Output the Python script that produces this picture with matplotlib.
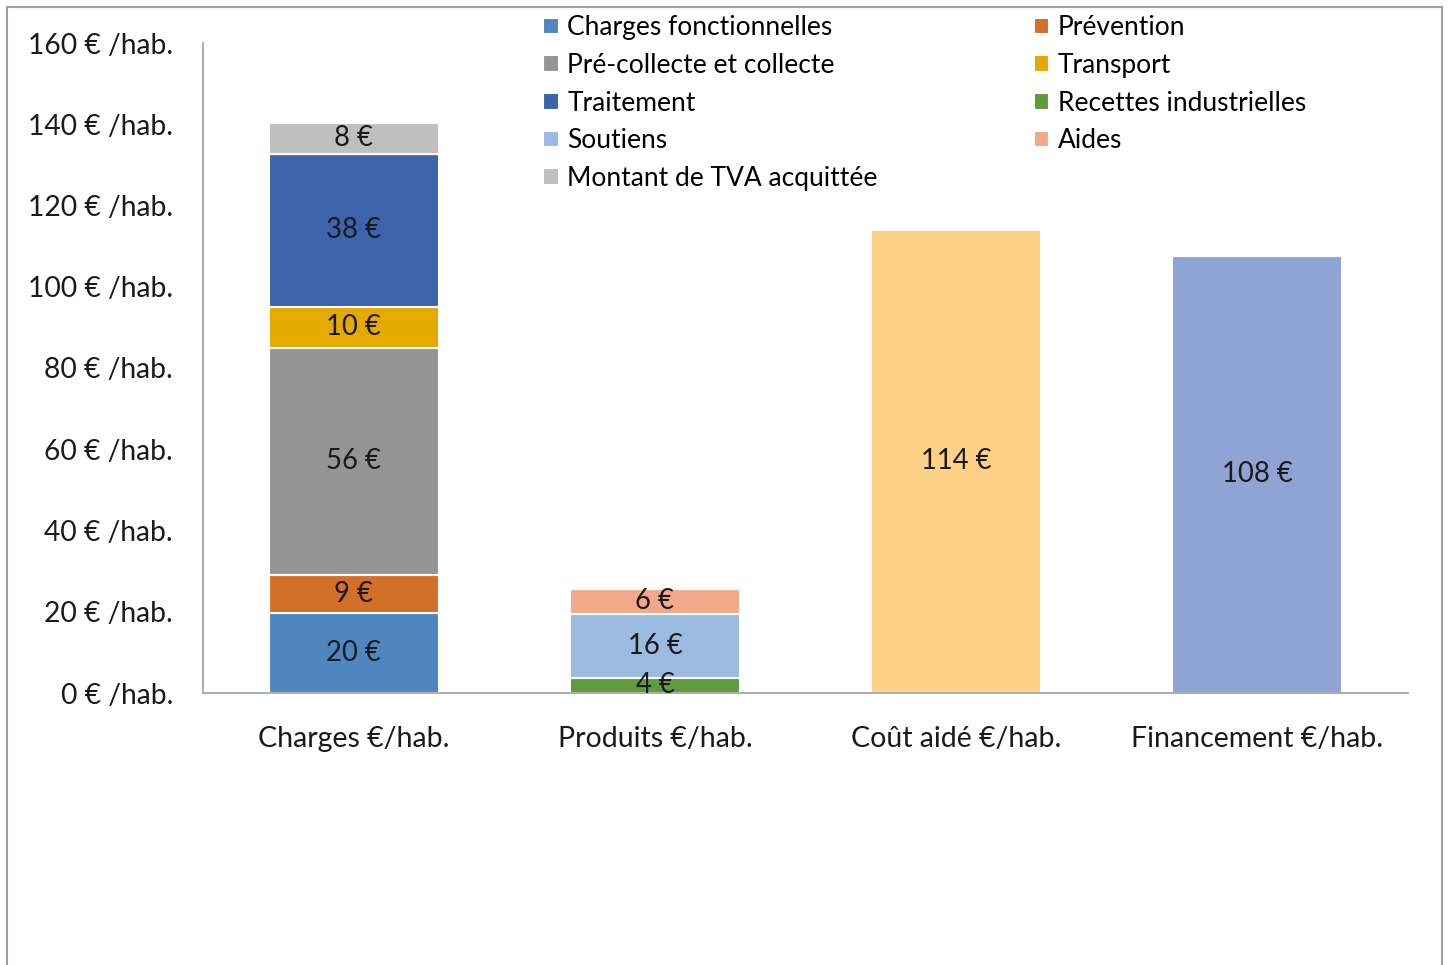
import numpy as np
import matplotlib.pyplot as plt
from matplotlib.patches import Rectangle

plt.rcParams['font.family'] = ['Lato', 'DejaVu Sans']

categories = ["Charges €/hab.", "Produits €/hab.", "Coût aidé €/hab.", "Financement €/hab."]
yticks = [0, 20, 40, 60, 80, 100, 120, 140, 160]
ytick_labels = [f"{v} € /hab." for v in yticks]

# stacked series (value per category, in €/hab.)
charges_fonct = [19.6, 0, 0, 0]
prevention = [9.4, 0, 0, 0]
precollecte = [56.0, 0, 0, 0]
transport = [10.1, 0, 0, 0]
traitement = [37.7, 0, 0, 0]
recettes = [0, 3.7, 0, 0]
soutiens = [0, 15.8, 0, 0]
aides = [0, 6.1, 0, 0]
tva = [7.6, 0, 0, 0]
cout_aide = [0, 0, 114.0, 0]
financement = [0, 0, 0, 107.6]

# drawing order bottom -> top
stack = [
    ("Charges fonctionnelles", charges_fonct, "#4E87BF"),
    ("Prévention", prevention, "#D46F2A"),
    ("Pré-collecte et collecte", precollecte, "#959595"),
    ("Transport", transport, "#E4AA00"),
    ("Traitement", traitement, "#3C63AC"),
    ("Recettes industrielles", recettes, "#5F9A3C"),
    ("Soutiens", soutiens, "#9BBBE0"),
    ("Aides", aides, "#F2A98B"),
    ("Montant de TVA acquittée", tva, "#BFBFBF"),
    (None, cout_aide, "#FFD186"),
    (None, financement, "#8FA3D5"),
]

fig = plt.figure(figsize=(14.49, 9.65), dpi=100)
ax = fig.add_axes([203 / 1449, 1 - 693 / 965, (1408 - 203) / 1449, (693 - 43) / 965])

x = np.arange(len(categories))
bottom = np.zeros(len(categories))
handles = {}
for name, vals, col in stack:
    vals = np.array(vals, dtype=float)
    bars = ax.bar(x, vals, 0.565, bottom=bottom, color=col, edgecolor="white", linewidth=1.5,
                  label=name if name else "_nolegend_")
    for xi, v, b in zip(x, vals, bottom):
        if v > 0:
            ax.text(xi, b + v / 2, f"{v:.0f} €", ha="center", va="center", fontsize=19.8, color="#1a1a1a")
    if name:
        handles[name] = bars
    bottom += vals

ax.set_xlim(-0.5, 3.5)
ax.set_ylim(0, 160)
ax.set_yticks(yticks)
ax.set_yticklabels(ytick_labels)
ax.set_xticks(x)
ax.set_xticklabels(categories)
ax.tick_params(axis="y", length=0, pad=21.6, labelsize=20.3, labelcolor="#1a1a1a")
ax.tick_params(axis="x", length=0, pad=23.8, labelsize=20.5, labelcolor="#1a1a1a")
for s in ["top", "right"]:
    ax.spines[s].set_visible(False)
ax.spines["left"].set_color("#A6A6A6")
ax.spines["bottom"].set_color("#A6A6A6")
ax.spines["left"].set_linewidth(1.3)
ax.spines["bottom"].set_linewidth(1.3)

order = ["Charges fonctionnelles", "Pré-collecte et collecte", "Traitement", "Soutiens",
         "Montant de TVA acquittée", "Prévention", "Transport", "Recettes industrielles", "Aides"]
fig.legend([handles[n] for n in order], order, ncol=2, loc="upper left",
           bbox_to_anchor=(530 / 1449, 1 - 2 / 965), frameon=False, fontsize=19,
           handlelength=0.6, handleheight=0.6, handletextpad=0.32, labelspacing=0.48,
           columnspacing=5.9, borderpad=0)

fig.patches.append(Rectangle((7 / 1449, -0.01), (1442 - 7) / 1449, 1.01 - 7 / 965,
                             transform=fig.transFigure, fill=False, edgecolor="#A0A0A0", linewidth=1.5))

fig.savefig("out.png", dpi=100)
